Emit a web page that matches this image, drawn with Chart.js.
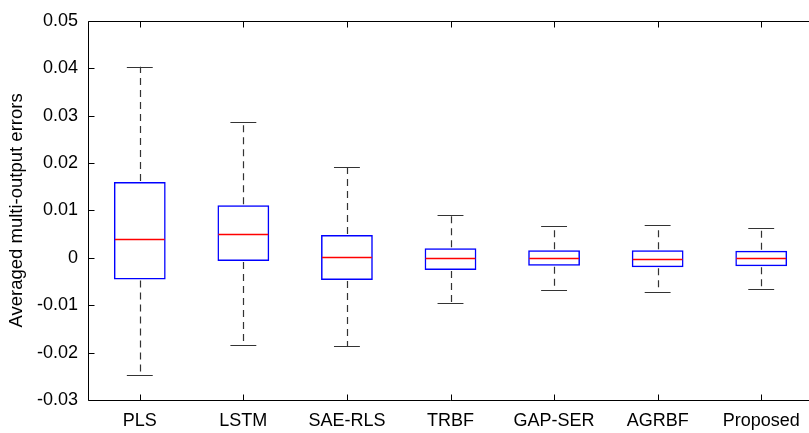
<!DOCTYPE html>
<html>
<head>
<meta charset="utf-8">
<script src="https://cdn.jsdelivr.net/npm/chart.js@4.4.1/dist/chart.umd.min.js"></script>
<style>
html,body{margin:0;padding:0;background:#fff;overflow:hidden;width:809px;height:433px;}
#wrap{position:absolute;left:0;top:0;width:820px;height:433px;}
</style>
</head>
<body>
<div id="wrap"><canvas id="c" width="820" height="433"></canvas></div>
<script>
const categories = ['PLS','LSTM','SAE-RLS','TRBF','GAP-SER','AGRBF','Proposed'];
const whiskerLow  = [-0.0248, -0.0183, -0.0186, -0.0095, -0.0067, -0.0072, -0.0066];
const q1Values    = [-0.0046, -0.0007, -0.0047, -0.0026, -0.0017, -0.0020, -0.0018];
const medianValues= [ 0.0040,  0.0051,  0.0001, -0.0001, -0.0001, -0.0002, -0.0001];
const q3Values    = [ 0.0160,  0.0111,  0.0048,  0.0020,  0.0016,  0.0016,  0.0015];
const whiskerHigh = [ 0.0403,  0.0287,  0.0191,  0.0090,  0.0068,  0.0069,  0.0063];
const yMin = -0.03, yMax = 0.05, yStep = 0.01;
const yTitle = 'Averaged multi-output errors';

const FONT = "'Liberation Sans', Arial, Helvetica, sans-serif";

const boxPlugin = {
  id: 'boxParts',
  afterDatasetsDraw(chart) {
    const ctx = chart.ctx;
    const xs = chart.scales.x, ys = chart.scales.y;
    const meta = chart.getDatasetMeta(0);
    ctx.save();
    meta.data.forEach((bar, i) => {
      const cx = bar.x;
      const half = bar.width / 2;
      const capHalf = half / 2;
      const pHi = ys.getPixelForValue(whiskerHigh[i]);
      const pLo = ys.getPixelForValue(whiskerLow[i]);
      const pQ3 = ys.getPixelForValue(q3Values[i]);
      const pQ1 = ys.getPixelForValue(q1Values[i]);
      const pMed = ys.getPixelForValue(medianValues[i]);
      const xc = Math.round(cx) + 0.5;
      ctx.strokeStyle = '#333';
      ctx.lineWidth = 1.2;
      ctx.setLineDash([7,5]);
      ctx.beginPath();
      ctx.moveTo(xc, pQ3 - 1); ctx.lineTo(xc, pHi);
      ctx.moveTo(xc, pQ1 + 1); ctx.lineTo(xc, pLo);
      ctx.stroke();
      ctx.setLineDash([]);
      ctx.beginPath();
      ctx.moveTo(cx - capHalf, Math.round(pHi)+0.5); ctx.lineTo(cx + capHalf, Math.round(pHi)+0.5);
      ctx.moveTo(cx - capHalf, Math.round(pLo)+0.5); ctx.lineTo(cx + capHalf, Math.round(pLo)+0.5);
      ctx.stroke();
      ctx.strokeStyle = '#ff0000';
      ctx.lineWidth = 1.5;
      ctx.beginPath();
      ctx.moveTo(cx - half + 1, Math.round(pMed)+0.5); ctx.lineTo(cx + half - 1, Math.round(pMed)+0.5);
      ctx.stroke();
    });
    const a = chart.chartArea;
    ctx.strokeStyle = '#000';
    ctx.lineWidth = 1;
    ctx.beginPath();
    const L = Math.round(a.left)+0.5, T = Math.round(a.top)+0.5, B = Math.round(a.bottom)+0.5, R = a.right;
    ctx.moveTo(L, T); ctx.lineTo(R, T);
    ctx.moveTo(L, T); ctx.lineTo(L, B);
    ctx.moveTo(L, B); ctx.lineTo(R, B);
    xs.ticks.forEach((t, i) => {
      const px = Math.round(xs.getPixelForTick(i)) + 0.5;
      ctx.moveTo(px, B); ctx.lineTo(px, B - 6);
      ctx.moveTo(px, T); ctx.lineTo(px, T + 6);
    });
    ys.ticks.forEach((t, i) => {
      const py = Math.round(ys.getPixelForTick(i)) + 0.5;
      ctx.moveTo(L, py); ctx.lineTo(L + 6, py);
    });
    ctx.stroke();
    ctx.restore();
  }
};

new Chart(document.getElementById('c'), {
  type: 'bar',
  data: {
    labels: categories,
    datasets: [{
      data: categories.map((c, i) => [q1Values[i], q3Values[i]]),
      backgroundColor: 'rgba(0,0,0,0)',
      borderColor: '#0000ff',
      borderWidth: 1.5,
      borderSkipped: false,
      categoryPercentage: 1.0,
      barPercentage: 0.5
    }]
  },
  options: {
    responsive: false,
    animation: false,
    layout: { padding: { top: 18, right: 7, left: 0, bottom: 0 } },
    plugins: { legend: { display: false }, tooltip: { enabled: false } },
    scales: {
      x: {
        grid: { display: false, drawTicks: false },
        border: { display: false },
        ticks: { color: '#000', font: { family: FONT, size: 18 }, padding: 10, maxRotation: 0 },
        afterFit(s) { s.height = 33; }
      },
      y: {
        min: yMin, max: yMax,
        grid: { display: false, drawTicks: false },
        border: { display: false },
        ticks: {
          stepSize: yStep, color: '#000', font: { family: FONT, size: 18 }, padding: 10,
          callback(v) { const r = Math.round(v * 100) / 100; return r === 0 ? '0' : r.toFixed(2); }
        },
        title: { display: true, text: yTitle, color: '#000', font: { family: FONT, size: 18.5 }, padding: { top: 6, bottom: 4 } },
        afterFit(s) { s.width = 88; }
      }
    }
  },
  plugins: [boxPlugin]
});
</script>
</body>
</html>
